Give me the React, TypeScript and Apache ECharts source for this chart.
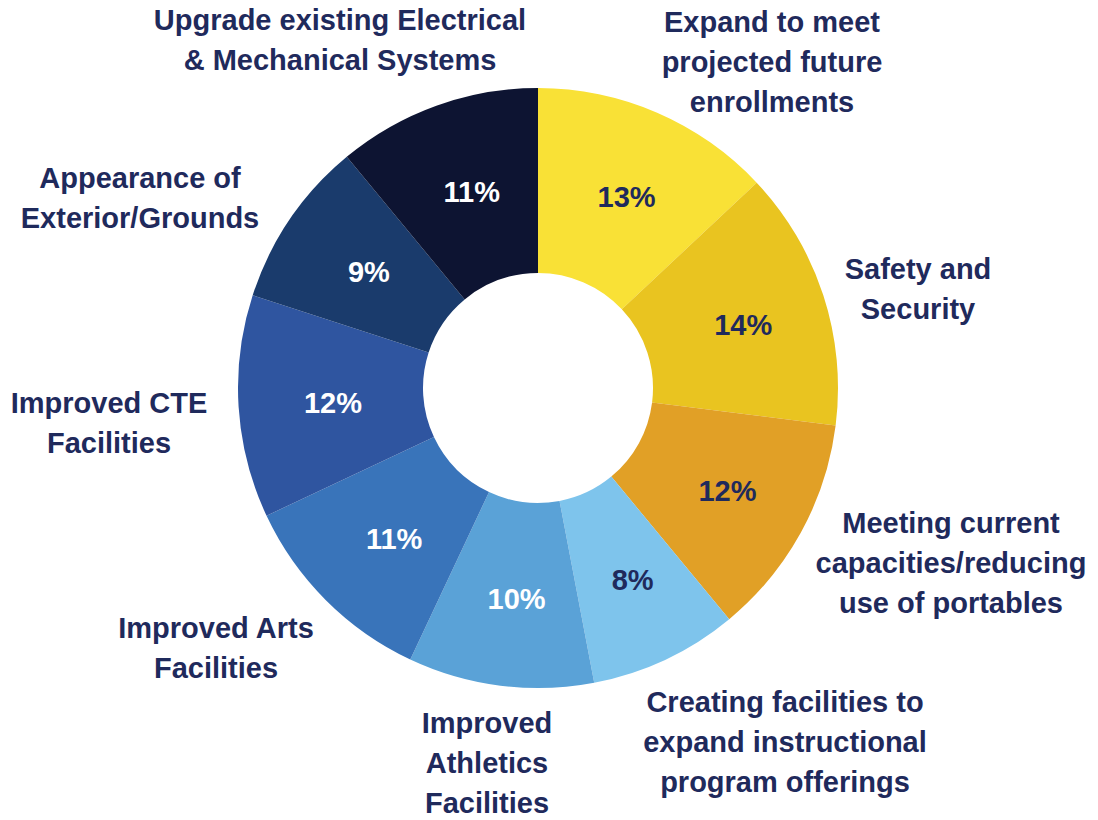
import React, { useEffect, useRef } from "react";
import * as echarts from "echarts";

const categories = [
  "Expand to meet\nprojected future\nenrollments",
  "Safety and\nSecurity",
  "Meeting current\ncapacities/reducing\nuse of portables",
  "Creating facilities to\nexpand instructional\nprogram offerings",
  "Improved\nAthletics\nFacilities",
  "Improved Arts\nFacilities",
  "Improved CTE\nFacilities",
  "Appearance of\nExterior/Grounds",
  "Upgrade existing Electrical\n& Mechanical Systems",
];
const percents = [13, 14, 12, 8, 10, 11, 12, 9, 11];

const sliceColors = [
  "#F9E136",
  "#E9C420",
  "#E1A026",
  "#7EC4EC",
  "#5AA2D7",
  "#3974BA",
  "#2F55A0",
  "#1A3B6C",
  "#0D1432",
];
const percentTextColors = [
  "#1F2A5C",
  "#1F2A5C",
  "#1F2A5C",
  "#1F2A5C",
  "#FFFFFF",
  "#FFFFFF",
  "#FFFFFF",
  "#FFFFFF",
  "#FFFFFF",
];
// centre of each outside label block (layout only)
const labelCenters: [number, number][] = [
  [772, 62],
  [918, 289],
  [951, 563],
  [785, 742],
  [487, 763],
  [216, 648],
  [109, 423],
  [140, 198],
  [340, 40],
];

const TEXT = "#1F2A5C";
const FONT = "'Liberation Sans', Arial, Helvetica, sans-serif";

export default function App() {
  const ref = useRef<HTMLDivElement>(null);
  useEffect(() => {
    document.body.style.margin = "0";
    if (!ref.current) return;
    const chart = echarts.init(ref.current, undefined, { renderer: "svg" });
    const data = categories.map((name, i) => ({
      name,
      value: percents[i],
      itemStyle: { color: sliceColors[i] },
      label: { color: percentTextColors[i] },
    }));
    const labelData = categories.map((name, i) => ({
      name,
      value: percents[i],
    }));
    chart.setOption({
      animation: false,
      backgroundColor: "#FFFFFF",
      series: [
        {
          type: "pie",
          center: [538, 388],
          radius: [115, 300],
          startAngle: 90,
          clockwise: true,
          silent: true,
          itemStyle: { borderWidth: 0 },
          label: {
            show: true,
            position: "inside",
            formatter: "{c}%",
            fontFamily: FONT,
            fontWeight: "bold",
            fontSize: 29,
          },
          labelLine: { show: false },
          labelLayout: { dx: 5, dy: 2 },
          data,
        },
        {
          type: "pie",
          center: [538, 388],
          radius: [115, 300],
          startAngle: 90,
          clockwise: true,
          silent: true,
          itemStyle: { color: "rgba(0,0,0,0)", borderWidth: 0 },
          label: {
            show: true,
            position: "outside",
            formatter: "{b}",
            color: TEXT,
            fontFamily: FONT,
            fontWeight: "bold",
            fontSize: 29,
            lineHeight: 40,
            align: "center",
            overflow: "none",
            width: 600,
          },
          labelLine: { show: false },
          labelLayout: (params: any) => {
            const c = labelCenters[params.dataIndex];
            return {
              x: c[0],
              y: c[1],
              align: "center",
              verticalAlign: "middle",
            };
          },
          data: labelData,
        },
      ],
    });
    return () => chart.dispose();
  }, []);
  return <div ref={ref} style={{ width: 1098, height: 820 }} />;
}
